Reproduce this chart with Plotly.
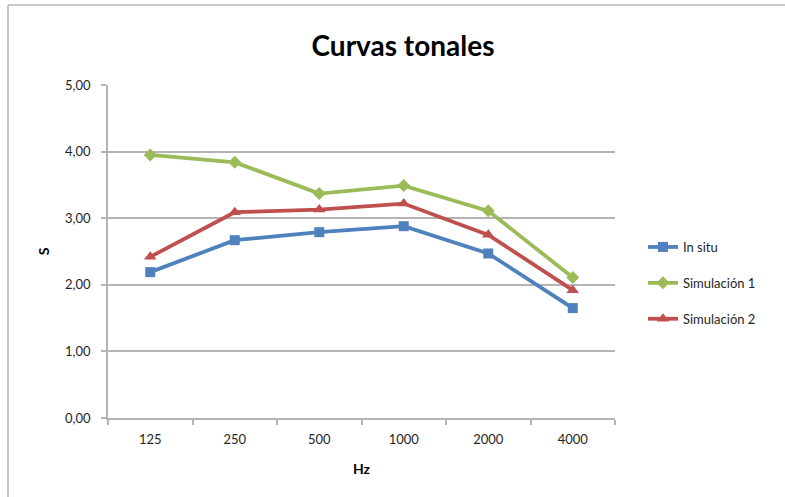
import plotly.graph_objects as go

# Frequency bands (Hz) and reverberation times (s) per series
frecuencias = ["125", "250", "500", "1000", "2000", "4000"]
in_situ = [2.19, 2.67, 2.79, 2.88, 2.47, 1.65]
simulacion_1 = [3.95, 3.84, 3.37, 3.49, 3.11, 2.11]
simulacion_2 = [2.42, 3.09, 3.13, 3.22, 2.75, 1.92]
y_ticks = [0, 1, 2, 3, 4, 5]

series = [
    ("In situ", in_situ, "#4F81BD", "square", 10),
    ("Simulación 1", simulacion_1, "#9BBB59", "diamond", 10),
    ("Simulación 2", simulacion_2, "#C0504D", "triangle-up", 11),
]

W, H = 785, 497
ML, MR, MT, MB = 108, 170, 85, 79
PW, PH = W - ML - MR, H - MT - MB

fig = go.Figure()
for i, (name, vals, color, symbol, size) in enumerate(series):
    fig.add_trace(go.Scatter(
        x=frecuencias, y=vals, name=name, mode="lines+markers",
        line=dict(color=color, width=3.8),
        marker=dict(symbol=symbol, size=size, color=color),
        legendgroup=f"g{i}",
    ))

font_family = "Lato, 'Open Sans', sans-serif"
axis_gray = "#b4b4b4"
label_color = "#1f1f1f"

fig.update_layout(
    width=W, height=H,
    margin=dict(l=ML, r=MR, t=MT, b=MB),
    paper_bgcolor="white", plot_bgcolor="white",
    separators=",.",
    font=dict(family=font_family, size=13, color=label_color),
    title=dict(
        text="<b>Curvas tonales</b>", x=403 / W, xref="container", xanchor="center",
        y=1 - 46 / H, yref="container", yanchor="middle",
        font=dict(family=font_family, size=28, color="#000000"),
    ),
    xaxis=dict(
        type="category", showgrid=False, showline=True, linecolor=axis_gray, linewidth=1.5,
        ticks="outside", tickson="boundaries", ticklen=5, tickcolor=axis_gray, tickwidth=1.5,
        tickfont=dict(size=13, color=label_color), ticklabelstandoff=9,
        title=dict(text="<b>Hz</b>", font=dict(size=14, color="#000000"), standoff=18),
        range=[-0.5, len(frecuencias) - 0.5],
    ),
    yaxis=dict(
        range=[0, 5], tickvals=y_ticks, tickformat=".2f",
        showgrid=True, gridcolor=axis_gray, gridwidth=1.5,
        showline=True, linecolor=axis_gray, linewidth=1.5,
        ticks="outside", ticklen=5, tickcolor=axis_gray, tickwidth=1.5,
        tickfont=dict(size=13, color=label_color), ticklabelstandoff=8, zeroline=False,
        title=dict(text="<b>S</b>", font=dict(size=14, color="#000000"), standoff=12),
    ),
    legend=dict(
        x=(643 - ML) / PW, xanchor="left", y=(418 - 283) / PH, yanchor="middle",
        tracegroupgap=16, font=dict(size=13, color=label_color),
        bgcolor="rgba(0,0,0,0)",
    ),
    shapes=[
        dict(type="line", xref="paper", yref="paper",
             x0=(8 - ML) / PW, x1=(W - ML) / PW, y0=1 + (MT - 5) / PH, y1=1 + (MT - 5) / PH,
             line=dict(color="#c8c8c8", width=2)),
        dict(type="line", xref="paper", yref="paper",
             x0=(8 - ML) / PW, x1=(8 - ML) / PW, y0=1 + (MT - 5) / PH, y1=-(MB) / PH,
             line=dict(color="#c8c8c8", width=2)),
    ],
)

fig.write_html("out.html")
